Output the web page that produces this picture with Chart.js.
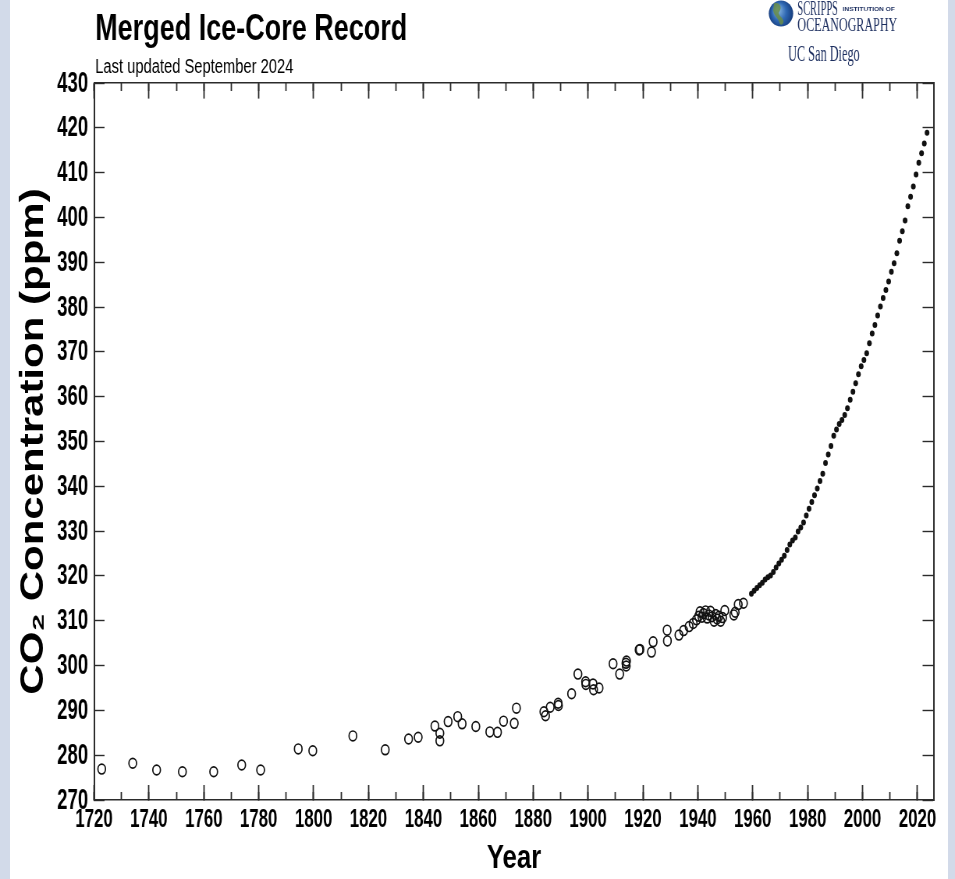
<!DOCTYPE html>
<html>
<head>
<meta charset="utf-8">
<title>Merged Ice-Core Record</title>
<script src="https://cdn.jsdelivr.net/npm/chart.js@4.4.1/dist/chart.umd.min.js"></script>
<style>
  html, body { margin: 0; padding: 0; }
  body { width: 955px; height: 879px; background: #d2dae9; position: relative; overflow: hidden; }
  #panel { position: absolute; left: 10px; top: 0; width: 938px; height: 879px; background: #fff; }
  /* the figure is laid out on a wider canvas and shown horizontally compressed */
  #wrap { position: absolute; left: 0; top: 0; width: 1224px; height: 879px;
          transform: scaleX(0.7802); transform-origin: 0 0; }
  canvas { display: block; }
</style>
</head>
<body>
<div id="panel"></div>
<div id="wrap"><canvas id="chart" width="1224" height="879"></canvas></div>
<script>
// ---- text ----
const TITLE = 'Merged Ice-Core Record';
const SUBTITLE = 'Last updated September 2024';
const Y_TITLE = 'CO\u2082 Concentration (ppm)';
const X_TITLE = 'Year';

// ---- axis ranges and tick steps ----
const X_MIN = 1720, X_MAX = 2026, X_MAJOR = 20, X_MINOR = 10;
const Y_MIN = 270, Y_MAX = 430, Y_STEP = 10;

// ---- ice-core samples (open circles) ----
const iceYears = [
  1722.8, 1734.1, 1742.8, 1752.2, 1763.6, 1773.8, 1780.7, 1794.4, 1799.7, 1814.3,
  1826.1, 1834.6, 1838.1, 1844.2, 1846.0, 1846.0, 1849.0, 1852.5, 1854.1, 1859.1,
  1864.2, 1867.0, 1869.2, 1873.1, 1873.9, 1883.9, 1884.5, 1886.2, 1889.1, 1889.2,
  1894.0, 1896.3, 1899.1, 1899.2, 1901.8, 1902.0, 1904.0, 1909.1, 1911.5, 1913.8,
  1914.0, 1913.9, 1918.6, 1918.9, 1923.1, 1923.7, 1928.8, 1928.9, 1933.1, 1934.8,
  1936.8, 1938.3, 1939.5, 1940.3, 1940.8, 1941.5, 1942.0, 1942.8, 1943.4, 1944.0,
  1944.6, 1945.2, 1945.9, 1946.5, 1947.0, 1947.7, 1948.3, 1949.0, 1949.8, 1953.1,
  1953.6, 1954.7, 1956.6
];
const iceCO2 = [
  276.9, 278.2, 276.7, 276.3, 276.3, 277.8, 276.7, 281.4, 281.0, 284.3,
  281.2, 283.6, 284.0, 286.5, 284.9, 283.2, 287.5, 288.6, 287.0, 286.4,
  285.2, 285.1, 287.6, 287.1, 290.5, 289.7, 288.8, 290.7, 291.6, 291.1,
  293.7, 298.1, 296.4, 295.8, 295.9, 294.6, 295.0, 300.4, 298.1, 300.5,
  301.0, 299.9, 303.5, 303.6, 303.0, 305.3, 307.9, 305.5, 306.8, 307.8,
  308.7, 309.4, 310.2, 311.0, 312.0, 310.8, 311.6, 312.2, 310.6, 311.3,
  312.1, 310.9, 309.9, 311.4, 310.4, 311.0, 309.9, 310.7, 312.3, 311.3,
  311.9, 313.6, 313.9
];

// ---- annual atmospheric means from 1959 on (filled dots) ----
const airYears = [
  1959.5, 1960.5, 1961.5, 1962.5, 1963.5, 1964.5, 1965.5, 1966.5, 1967.5, 1968.5,
  1969.5, 1970.5, 1971.5, 1972.5, 1973.5, 1974.5, 1975.5, 1976.5, 1977.5, 1978.5,
  1979.5, 1980.5, 1981.5, 1982.5, 1983.5, 1984.5, 1985.5, 1986.5, 1987.5, 1988.5,
  1989.5, 1990.5, 1991.5, 1992.5, 1993.5, 1994.5, 1995.5, 1996.5, 1997.5, 1998.5,
  1999.5, 2000.5, 2001.5, 2002.5, 2003.5, 2004.5, 2005.5, 2006.5, 2007.5, 2008.5,
  2009.5, 2010.5, 2011.5, 2012.5, 2013.5, 2014.5, 2015.5, 2016.5, 2017.5, 2018.5,
  2019.5, 2020.5, 2021.5, 2022.5, 2023.5
];
const airCO2 = [
  316.0, 316.7, 317.3, 317.9, 318.5, 319.2, 319.7, 320.1, 320.9, 321.9,
  322.8, 323.6, 324.5, 325.8, 327.0, 327.9, 328.6, 329.9, 330.8, 331.9,
  333.5, 335.0, 336.5, 338.0, 339.5, 341.2, 342.8, 345.2, 347.1, 349.0,
  351.3, 352.7, 353.9, 354.8, 355.9, 357.4, 359.3, 361.1, 363.0, 365.0,
  366.8, 368.2, 369.7, 371.9, 374.1, 376.0, 378.1, 380.1, 382.0, 383.8,
  385.7, 387.9, 389.8, 392.0, 394.8, 396.9, 399.3, 402.5, 404.6, 406.9,
  409.6, 412.2, 414.3, 416.5, 418.9
];

const toPoints = (xs, ys) => xs.map((x, i) => ({ x: x, y: ys[i] }));

const SANS = '"Liberation Sans", Arial, Helvetica, sans-serif';
const SERIF = '"Liberation Serif", "Times New Roman", serif';
const INK = '#111';
const AXIS = '#2b2b2b';

// text squeezed/stretched horizontally by a factor
function drawSqueezed(ctx, text, x, y, sx, font, color, align, baseline) {
  ctx.save();
  ctx.font = font;
  ctx.fillStyle = color;
  ctx.textAlign = align || 'left';
  ctx.textBaseline = baseline || 'alphabetic';
  ctx.translate(x, y);
  ctx.scale(sx, 1);
  ctx.fillText(text, 0, 0);
  ctx.restore();
}

// text fitted to an exact width
function fitText(ctx, text, x, y, w, font, color) {
  ctx.save();
  ctx.font = font;
  const m = ctx.measureText(text).width;
  ctx.restore();
  drawSqueezed(ctx, text, x, y, w / m, font, color);
}

// condensed numeric labels for the two labelled axes, placed from the scales' ticks
const tickLabelPlugin = {
  id: 'tickLabels',
  afterDraw(chart) {
    const ctx = chart.ctx;
    const xs = chart.scales.x, ys = chart.scales.y;
    xs.ticks.forEach((t) => {
      drawSqueezed(ctx, String(t.value), xs.getPixelForValue(t.value), 819.5, 0.83,
                   'bold 26px ' + SANS, '#000', 'center', 'middle');
    });
    ys.ticks.forEach((t) => {
      drawSqueezed(ctx, String(t.value), 113, ys.getPixelForValue(t.value) + 0.5, 0.82,
                   'bold 29px ' + SANS, '#000', 'right', 'middle');
    });
  }
};

// title, subtitle and institution mark
const headerPlugin = {
  id: 'header',
  afterDraw(chart) {
    const ctx = chart.ctx;
    const left = chart.chartArea.left + 1.5;
    fitText(ctx, TITLE, left, 39.5, 400, 'bold 36px ' + SANS, '#000');
    fitText(ctx, SUBTITLE, left, 72.5, 254, '19.5px ' + SANS, '#000');

    // globe
    ctx.save();
    const gx = 1001, gy = 13.5, rx = 15.6, ry = 13;
    const g = ctx.createRadialGradient(gx - 5, gy - 4, 1, gx, gy, rx);
    g.addColorStop(0, '#8fbde6');
    g.addColorStop(0.55, '#2f68b3');
    g.addColorStop(1, '#163c7c');
    ctx.beginPath();
    ctx.ellipse(gx, gy, rx, ry, 0, 0, Math.PI * 2);
    ctx.fillStyle = g;
    ctx.fill();
    ctx.clip();
    ctx.fillStyle = 'rgba(104,140,70,0.85)';
    ctx.beginPath();
    ctx.moveTo(gx - 9, gy - 10);
    ctx.bezierCurveTo(gx - 2, gy - 12, gx + 2, gy - 6, gx - 2, gy - 2);
    ctx.bezierCurveTo(gx - 5, gy + 1, gx + 1, gy + 3, gx + 3, gy + 7);
    ctx.bezierCurveTo(gx + 4, gy + 11, gx - 1, gy + 13, gx - 2, gy + 9);
    ctx.bezierCurveTo(gx - 4, gy + 4, gx - 9, gy + 2, gx - 10, gy - 3);
    ctx.closePath();
    ctx.fill();
    ctx.restore();

    const navy = '#1b2d5e';
    fitText(ctx, 'SCRIPPS', 1022, 15, 52, '20px ' + SERIF, navy);
    fitText(ctx, 'INSTITUTION OF', 1080, 11, 67, 'bold 5.5px ' + SANS, navy);
    fitText(ctx, 'OCEANOGRAPHY', 1022, 30.5, 128, '19.5px ' + SERIF, navy);
    fitText(ctx, 'UC San Diego', 1010, 60.5, 92, '23px ' + SERIF, navy);
  }
};

// tick-only axes pinned to the frame edges
function frameAxis(pos, step, len, width, showBorder) {
  return {
    type: 'linear',
    position: pos,
    min: pos.y !== undefined ? X_MIN : Y_MIN,
    max: pos.y !== undefined ? X_MAX : Y_MAX,
    ticks: { display: false, stepSize: step, includeBounds: false, autoSkip: false },
    grid: { display: true, drawOnChartArea: false, drawTicks: true,
            tickLength: len, tickWidth: width, tickColor: AXIS },
    border: { display: showBorder, color: AXIS, width: pos.y !== undefined ? 1.6 : 2 }
  };
}

new Chart(document.getElementById('chart'), {
  type: 'scatter',
  data: {
    datasets: [
      {
        label: 'Ice core',
        data: toPoints(iceYears, iceCO2),
        pointStyle: 'circle',
        pointRadius: 4.9,
        pointHoverRadius: 4.9,
        pointBorderWidth: 1.7,
        borderColor: INK,
        backgroundColor: 'rgba(0,0,0,0)'
      },
      {
        label: 'Atmosphere',
        data: toPoints(airYears, airCO2),
        pointStyle: 'circle',
        pointRadius: 3,
        pointHoverRadius: 3,
        pointBorderWidth: 0,
        borderColor: INK,
        backgroundColor: INK
      }
    ]
  },
  options: {
    responsive: false,
    animation: false,
    events: [],
    layout: { padding: { left: 0, right: 27, top: 83, bottom: 0 } },
    plugins: {
      legend: { display: false },
      tooltip: { enabled: false }
    },
    scales: {
      x: {
        type: 'linear',
        position: 'bottom',
        min: X_MIN,
        max: X_MAX,
        afterFit: (s) => { s.height = 79; },
        ticks: { display: false, stepSize: X_MAJOR, includeBounds: false, autoSkip: false },
        grid: { display: true, drawOnChartArea: false, drawTicks: true,
                tickLength: -15, tickWidth: 1.8, tickColor: AXIS },
        border: { display: true, color: AXIS, width: 1.6 },
        title: { display: true, text: X_TITLE, color: '#000',
                 font: { family: SANS, size: 33, weight: 'bold' },
                 padding: { top: 0, bottom: 0 } }
      },
      xMinor: frameAxis({ y: Y_MIN }, X_MINOR, -8, 1.8, false),
      xTop: frameAxis({ y: Y_MAX }, X_MAJOR, 15, 1.8, true),
      xTopMinor: frameAxis({ y: Y_MAX }, X_MINOR, 8, 1.8, false),
      y: {
        type: 'linear',
        position: 'left',
        min: Y_MIN,
        max: Y_MAX,
        afterFit: (s) => { s.width = 120.5; },
        ticks: { display: false, stepSize: Y_STEP, includeBounds: false, autoSkip: false },
        grid: { display: true, drawOnChartArea: false, drawTicks: true,
                tickLength: -13.5, tickWidth: 1.4, tickColor: AXIS },
        border: { display: true, color: AXIS, width: 2 },
        title: { display: true, text: Y_TITLE, color: '#000',
                 font: { family: SANS, size: 42, weight: 'bold' },
                 padding: { top: 18, bottom: 0 } }
      },
      yRight: frameAxis({ x: X_MAX }, Y_STEP, 13.5, 1.4, true)
    }
  },
  plugins: [tickLabelPlugin, headerPlugin]
});
</script>
</body>
</html>
